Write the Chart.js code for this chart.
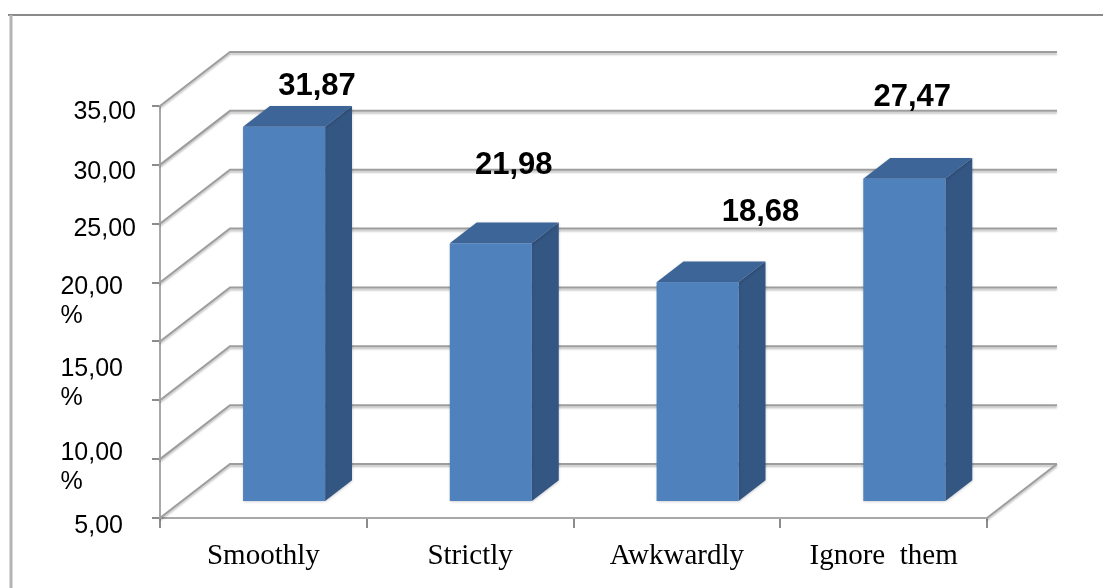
<!DOCTYPE html>
<html>
<head>
<meta charset="utf-8">
<script src="https://cdn.jsdelivr.net/npm/chart.js@4.4.1/dist/chart.umd.min.js"></script>
<style>
  html, body { margin: 0; padding: 0; background: #fff; }
  #wrap { width: 1103px; height: 588px; }
</style>
</head>
<body>
<div id="wrap"><canvas id="c" width="1103" height="588"></canvas></div>
<script>
// Survey answers (percent of respondents)
const categories = ['Smoothly', 'Strictly', 'Awkwardly', 'Ignore  them'];
const shares = [31.87, 21.98, 18.68, 27.47];

// Value-axis labels as printed (some wrap onto a second line)
const yTickText = [['35,00'], ['30,00'], ['25,00'], ['20,00', '%'], ['15,00', '%'], ['10,00', '%'], ['5,00']];
// Where each value-axis label's first line sits, in axis units
const yLabelAnchor = [34.5, 29.4, 24.55, 19.6, 12.65, 5.5, -0.7];
// Small pixel nudges for the value labels above the bars
const labelNudge = [[6, 35], [-4, -2], [36, 6], [-19, -5]];

// Oblique projection of the floor depth, and where the bars sit within it
const DEPTH = { dx: 70, dy: -54 };
const BAR_FRONT = 0.296, BAR_BACK = 0.68;

const fmt = v => v.toFixed(2).replace('.', ',');

function poly(ctx, pts) {
  ctx.beginPath();
  ctx.moveTo(pts[0][0], pts[0][1]);
  for (let i = 1; i < pts.length; i++) ctx.lineTo(pts[i][0], pts[i][1]);
  ctx.closePath();
  ctx.fill();
}

// Outer frame of the chart object
const frame = {
  id: 'frame',
  beforeDraw(chart) {
    const ctx = chart.ctx;
    ctx.save();
    ctx.fillStyle = '#fff';
    ctx.fillRect(0, 0, chart.width, chart.height);
    ctx.strokeStyle = '#8a8a8a';
    ctx.lineWidth = 2;
    ctx.beginPath(); ctx.moveTo(8, 15); ctx.lineTo(chart.width, 15); ctx.stroke();
    ctx.strokeStyle = '#b4b4b4';
    ctx.lineWidth = 3;
    ctx.beginPath(); ctx.moveTo(11, 15); ctx.lineTo(11, chart.height); ctx.stroke();
    ctx.restore();
  }
};

// Side wall, back wall gridlines and floor outline
const walls = {
  id: 'walls',
  beforeDatasetsDraw(chart) {
    const { ctx, chartArea: a, scales: { y } } = chart;
    ctx.save();
    ctx.lineWidth = 2;
    ctx.strokeStyle = '#9d9d9d';
    ctx.shadowColor = 'rgba(0,0,0,0.25)';
    ctx.shadowOffsetY = 2;
    ctx.shadowBlur = 2;
    ctx.beginPath();
    y.ticks.forEach(t => {
      const py = y.getPixelForValue(t.value);
      ctx.moveTo(a.left, py);
      ctx.lineTo(a.left + DEPTH.dx, py + DEPTH.dy);
      ctx.lineTo(a.right + DEPTH.dx, py + DEPTH.dy);
    });
    ctx.moveTo(a.right, a.bottom);
    ctx.lineTo(a.right + DEPTH.dx, a.bottom + DEPTH.dy);
    ctx.stroke();
    ctx.restore();
  }
};

// Extruded bars with their value labels
const bars3d = {
  id: 'bars3d',
  afterDatasetsDraw(chart) {
    const ctx = chart.ctx;
    const meta = chart.getDatasetMeta(0);
    const fx = DEPTH.dx * BAR_FRONT, fy = DEPTH.dy * BAR_FRONT;
    const ddx = DEPTH.dx * (BAR_BACK - BAR_FRONT), ddy = DEPTH.dy * (BAR_BACK - BAR_FRONT);
    ctx.save();
    meta.data.forEach((bar, i) => {
      const { x, y, base, width } = bar.getProps(['x', 'y', 'base', 'width'], true);
      const L = x - width / 2 + fx, R = x + width / 2 + fx;
      const T = y + fy, B = base + fy;
      ctx.shadowColor = 'rgba(0,0,0,0.22)';
      ctx.shadowBlur = 3;
      ctx.shadowOffsetY = 1;
      ctx.fillStyle = '#335683';
      poly(ctx, [[R, T], [R + ddx, T + ddy], [R + ddx, B + ddy], [R, B]]);
      ctx.fillStyle = '#3d6597';
      poly(ctx, [[L, T], [R, T], [R + ddx, T + ddy], [L + ddx, T + ddy]]);
      ctx.fillStyle = '#4f81bd';
      ctx.fillRect(L, T, R - L, B - T);
    });
    ctx.shadowColor = 'transparent';
    ctx.font = 'bold 31px "Liberation Sans", Arial, sans-serif';
    ctx.textAlign = 'center';
    ctx.textBaseline = 'middle';
    ctx.fillStyle = '#000';
    meta.data.forEach((bar, i) => {
      const { x, y } = bar.getProps(['x', 'y'], true);
      const bx = x + DEPTH.dx * BAR_BACK, by = y + DEPTH.dy * BAR_BACK;
      ctx.fillText(fmt(shares[i]), bx + labelNudge[i][0], by - 55 + labelNudge[i][1]);
    });
    ctx.restore();
  }
};

// Value-axis labels
const yLabels = {
  id: 'yLabels',
  afterDraw(chart) {
    const { ctx, chartArea: a, scales: { y } } = chart;
    ctx.save();
    ctx.font = '25px "Liberation Sans", Arial, sans-serif';
    ctx.fillStyle = '#000';
    ctx.textBaseline = 'middle';
    ctx.textAlign = 'left';
    const firstWrapped = yTickText.findIndex(l => l.length > 1);
    yTickText.forEach((lines, i) => {
      const right = a.left - (i >= firstWrapped ? 37 : 24);
      const w = ctx.measureText(lines[0]).width;
      const top = y.getPixelForValue(yLabelAnchor[i]);
      lines.forEach((s, k) => ctx.fillText(s, right - w, top + k * 29));
    });
    ctx.restore();
  }
};

new Chart(document.getElementById('c'), {
  type: 'bar',
  data: {
    labels: categories,
    datasets: [{
      data: shares,
      backgroundColor: 'rgba(0,0,0,0)',
      borderWidth: 0,
      barPercentage: 0.397,
      categoryPercentage: 1
    }]
  },
  options: {
    responsive: false,
    animation: false,
    devicePixelRatio: 1,
    layout: { padding: { left: 0, top: 106, right: 116, bottom: 0 } },
    plugins: { legend: { display: false }, tooltip: { enabled: false } },
    scales: {
      x: {
        grid: { display: true, drawOnChartArea: false, drawTicks: true, tickLength: 10, color: '#8c8c8c', lineWidth: 2, offset: true },
        border: { color: '#a8a8a8', width: 2 },
        ticks: {
          font: { family: '"Liberation Serif", "Times New Roman", serif', size: 29 },
          color: '#000', padding: 11, maxRotation: 0, autoSkip: false
        },
        afterFit(s) { s.height = 70; }
      },
      y: {
        min: 0, max: 35,
        ticks: { stepSize: 5, display: false },
        grid: { drawOnChartArea: false, drawTicks: true, tickLength: 8, color: '#8c8c8c', lineWidth: 2 },
        border: { color: '#a8a8a8', width: 2 },
        afterFit(s) { s.width = 160; }
      }
    }
  },
  plugins: [frame, walls, bars3d, yLabels]
});
</script>
</body>
</html>
